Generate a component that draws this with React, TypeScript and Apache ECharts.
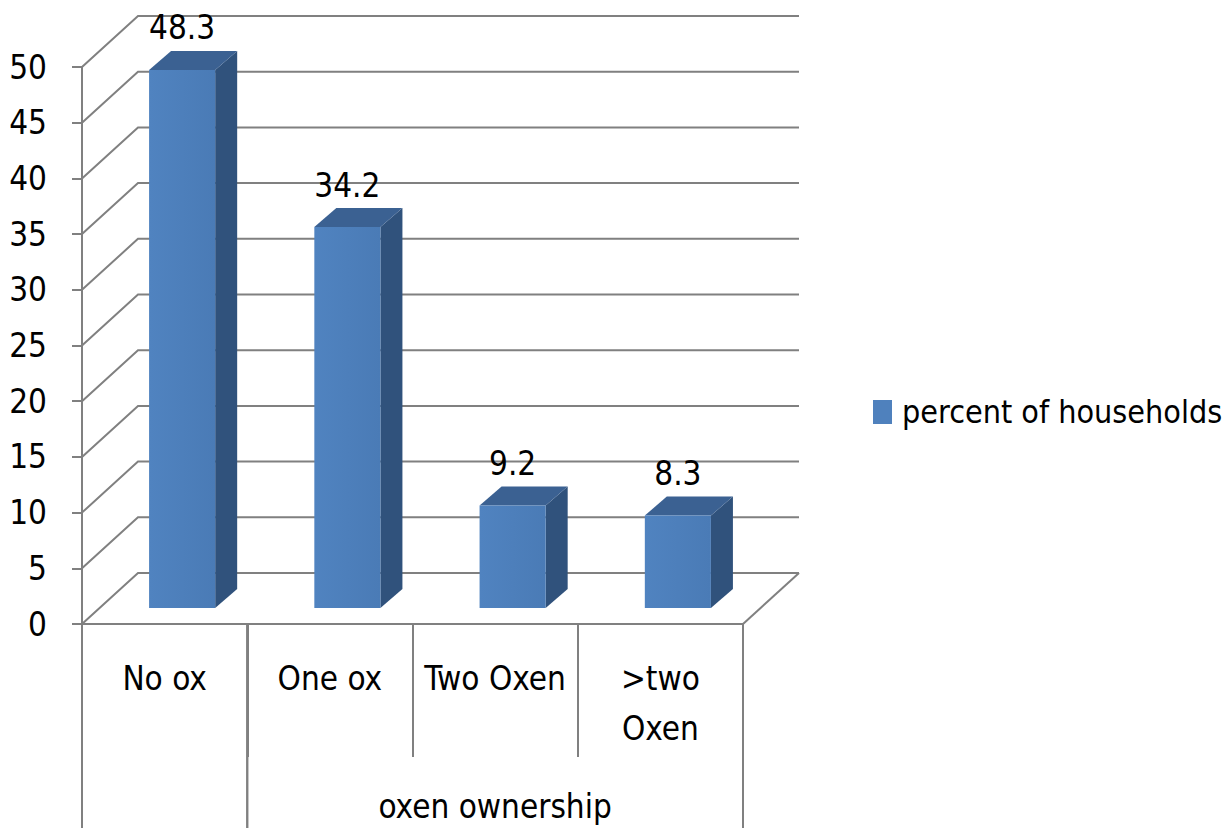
import React, { useEffect, useRef } from "react";
import * as echarts from "echarts";

const categories = ["No ox", "One ox", "Two Oxen", ">two\nOxen"];
const values = [48.3, 34.2, 9.2, 8.3];
const yTicks = [0, 5, 10, 15, 20, 25, 30, 35, 40, 45, 50];
const seriesName = "percent of households";
const groups = [
  { name: "", from: 0, to: 0 },
  { name: "oxen ownership", from: 1, to: 3 },
];

const FONT = "'Liberation Sans Narrow', 'DejaVu Sans Condensed', 'Liberation Sans', sans-serif";
const FS = 33;
const GRID_COLOR = "#808080";
const FLOOR_DX = 56;
const FLOOR_DY = 51;
const BAR_DX = 17.5;
const BAR_DY = 16;
const BAR_DEPTH_X = 22;
const BAR_DEPTH_Y = 19;
const BOTTOM = 828;

export default function App() {
  const ref = useRef<HTMLDivElement>(null);
  useEffect(() => {
    if (!ref.current) return;
    const chart = echarts.init(ref.current, null, { renderer: "svg" });
    const option: any = {
      animation: false,
      backgroundColor: "#ffffff",
      grid: { left: 82, top: 67, right: 1226 - 743, bottom: BOTTOM - 624, containLabel: false },
      legend: {
        data: [seriesName],
        left: 873,
        top: 396,
        padding: 0,
        icon: "rect",
        itemWidth: 19,
        itemHeight: 24,
        textStyle: { fontFamily: FONT, fontSize: 32, color: "#000", padding: [0, 0, 0, 5] },
      },
      xAxis: {
        type: "category",
        data: categories,
        axisLine: { show: true, lineStyle: { color: GRID_COLOR, width: 2 } },
        axisTick: { show: true, length: 133, lineStyle: { color: GRID_COLOR, width: 2 } },
        axisLabel: {
          fontFamily: FONT,
          fontSize: FS,
          color: "#000",
          margin: 29,
          lineHeight: 50,
          verticalAlign: "top",
          interval: 0,
        },
        splitLine: { show: false },
      },
      yAxis: {
        type: "value",
        min: 0,
        max: 50,
        interval: 5,
        axisLine: { show: true, lineStyle: { color: GRID_COLOR, width: 2 } },
        axisTick: { show: true, length: 10, lineStyle: { color: GRID_COLOR, width: 2 } },
        axisLabel: { fontFamily: FONT, fontSize: FS, color: "#000", margin: 35 },
        splitLine: { show: false },
      },
      series: [
        {
          type: "custom",
          name: "gridlines",
          silent: true,
          z: 1,
          data: yTicks.map((t) => [0, t]),
          encode: { x: 0, y: 1 },
          renderItem: (params: any, api: any) => {
            const t = api.value(1);
            const p = api.coord([0, t]);
            const bw = api.size([1, 0])[0];
            const x0 = p[0] - bw / 2;
            const xr = x0 + bw * categories.length;
            const y = p[1];
            const children: any[] = [
              {
                type: "polyline",
                shape: {
                  points: [
                    [x0, y],
                    [x0 + FLOOR_DX, y - FLOOR_DY],
                    [xr + FLOOR_DX, y - FLOOR_DY],
                  ],
                },
                style: { stroke: GRID_COLOR, lineWidth: 2, fill: "none" },
              },
            ];
            if (t === 0) {
              children.push({
                type: "line",
                shape: { x1: xr, y1: y, x2: xr + FLOOR_DX, y2: y - FLOOR_DY },
                style: { stroke: GRID_COLOR, lineWidth: 2 },
              });
            }
            return { type: "group", children };
          },
        },
        {
          type: "custom",
          name: "groups",
          silent: true,
          z: 1,
          data: groups.map((g) => [g.from, g.to]),
          encode: { x: [0, 1] },
          renderItem: (params: any, api: any) => {
            const g = groups[params.dataIndex];
            const a = api.coord([g.from, 0]);
            const b = api.coord([g.to, 0]);
            const bw = api.size([1, 0])[0];
            const xl = a[0] - bw / 2;
            const xrr = b[0] + bw / 2;
            const y0 = a[1];
            return {
              type: "group",
              children: [
                {
                  type: "line",
                  shape: { x1: xl, y1: y0, x2: xl, y2: BOTTOM },
                  style: { stroke: GRID_COLOR, lineWidth: 2 },
                },
                {
                  type: "line",
                  shape: { x1: xrr, y1: y0, x2: xrr, y2: BOTTOM },
                  style: { stroke: GRID_COLOR, lineWidth: 2 },
                },
                {
                  type: "text",
                  style: {
                    text: g.name,
                    x: (xl + xrr) / 2,
                    y: 806,
                    fill: "#000",
                    fontSize: FS,
                    fontFamily: FONT,
                    align: "center",
                    verticalAlign: "middle",
                    textAlign: "center",
                    textVerticalAlign: "middle",
                  },
                },
              ],
            };
          },
        },
        {
          type: "custom",
          name: seriesName,
          z: 3,
          itemStyle: { color: "#4f81bd" },
          data: values.map((v, i) => [i, v]),
          encode: { x: 0, y: 1 },
          renderItem: (params: any, api: any) => {
            const i = api.value(0);
            const v = api.value(1);
            const c0 = api.coord([i, 0]);
            const c1 = api.coord([i, v]);
            const bw = api.size([1, 0])[0];
            const half = bw * 0.2;
            const cx = c0[0] + BAR_DX;
            const L = cx - half;
            const R = cx + half;
            const bot = c0[1] - BAR_DY;
            const top = c1[1] - BAR_DY;
            const dx = BAR_DEPTH_X;
            const dy = BAR_DEPTH_Y;
            return {
              type: "group",
              children: [
                {
                  type: "polygon",
                  shape: { points: [[R, top], [R + dx, top - dy], [R + dx, bot - dy], [R, bot]] },
                  style: { fill: "#30527c" },
                },
                {
                  type: "polygon",
                  shape: { points: [[L, top], [L + dx, top - dy], [R + dx, top - dy], [R, top]] },
                  style: { fill: "#3b6192" },
                },
                {
                  type: "rect",
                  shape: { x: L, y: top, width: R - L, height: bot - top },
                  style: {
                    fill: new echarts.graphic.LinearGradient(0, 0, 1, 0, [
                      { offset: 0, color: "#5083c0" },
                      { offset: 1, color: "#4a7bb6" },
                    ]),
                  },
                },
                {
                  type: "text",
                  style: {
                    text: String(v),
                    x: cx,
                    y: top - dy - 23,
                    fill: "#000",
                    fontSize: FS,
                    fontFamily: FONT,
                    align: "center",
                    verticalAlign: "middle",
                    textAlign: "center",
                    textVerticalAlign: "middle",
                  },
                },
              ],
            };
          },
        },
      ],
    };
    chart.setOption(option);
    return () => chart.dispose();
  }, []);
  return (
    <div
      ref={ref}
      style={{ position: "absolute", left: 0, top: 0, width: 1226, height: 828 }}
    />
  );
}
